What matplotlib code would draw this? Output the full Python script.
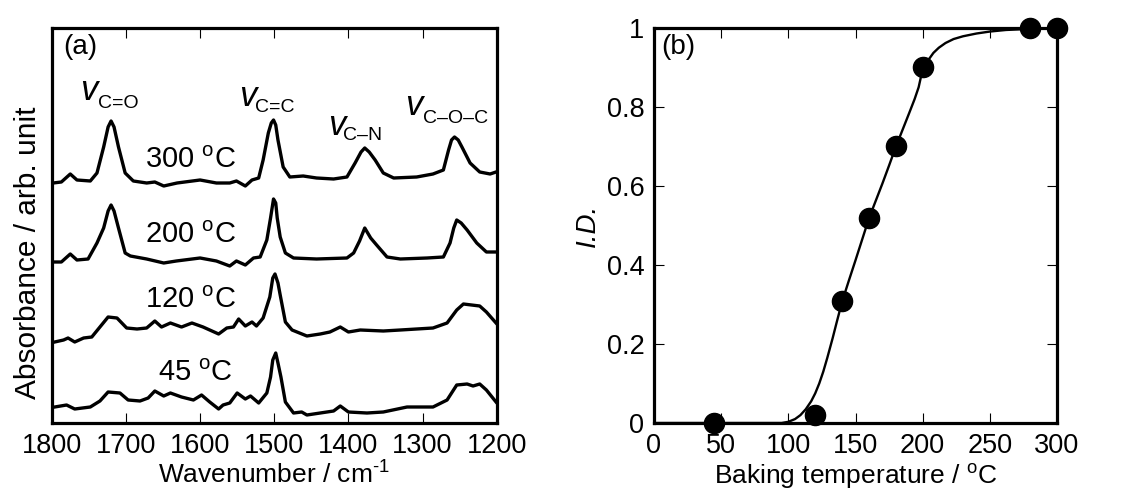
import matplotlib
matplotlib.use('Agg')
import matplotlib.pyplot as plt

plt.rcParams['font.family'] = ['Liberation Sans', 'DejaVu Sans']
plt.rcParams['mathtext.fontset'] = 'custom'
plt.rcParams['mathtext.rm'] = 'Liberation Sans'
plt.rcParams['mathtext.it'] = 'Liberation Sans:italic'

# ---- (a) IR spectra (absorbance in arb. unit, already stacked)
wn_300 = [1798, 1787, 1775, 1766, 1748, 1739, 1730, 1724, 1720, 1716, 1710, 1701, 1690, 1672,
          1661, 1649, 1631, 1600, 1578, 1560, 1551, 1539, 1530, 1521, 1515, 1508, 1504, 1501,
          1498, 1495, 1488, 1479, 1461, 1443, 1420, 1402, 1391, 1383, 1378, 1372, 1364, 1353,
          1339, 1308, 1286, 1272, 1265, 1261, 1257, 1252, 1247, 1236, 1223, 1209, 1201]
ab_300 = [2.40, 2.41, 2.49, 2.43, 2.42, 2.50, 2.76, 2.96, 3.02, 2.96, 2.76, 2.50, 2.42, 2.40,
          2.41, 2.37, 2.40, 2.43, 2.40, 2.40, 2.42, 2.37, 2.43, 2.45, 2.63, 2.90, 3.00, 3.03,
          2.98, 2.83, 2.56, 2.46, 2.47, 2.45, 2.44, 2.46, 2.60, 2.71, 2.75, 2.71, 2.63, 2.50,
          2.45, 2.46, 2.49, 2.53, 2.73, 2.83, 2.86, 2.83, 2.76, 2.60, 2.51, 2.49, 2.51]

wn_200 = [1796, 1787, 1775, 1766, 1751, 1739, 1730, 1724, 1720, 1716, 1710, 1701, 1694, 1672,
          1649, 1632, 1600, 1578, 1560, 1551, 1539, 1528, 1519, 1510, 1505, 1501, 1498, 1496,
          1492, 1485, 1474, 1443, 1402, 1393, 1385, 1378, 1370, 1362, 1348, 1330, 1294, 1272,
          1263, 1258, 1254, 1248, 1240, 1227, 1214, 1201]
ab_200 = [1.61, 1.61, 1.69, 1.63, 1.64, 1.80, 1.95, 2.12, 2.18, 2.12, 1.95, 1.70, 1.67, 1.64,
          1.60, 1.62, 1.65, 1.62, 1.57, 1.62, 1.58, 1.65, 1.66, 1.83, 2.05, 2.24, 2.20, 2.05,
          1.86, 1.70, 1.65, 1.64, 1.65, 1.70, 1.82, 1.95, 1.85, 1.78, 1.66, 1.64, 1.65, 1.66,
          1.80, 1.95, 2.03, 2.00, 1.93, 1.80, 1.71, 1.71]

wn_120 = [1796, 1784, 1778, 1769, 1757, 1746, 1735, 1724, 1712, 1699, 1685, 1672, 1661, 1652,
          1640, 1625, 1611, 1596, 1575, 1564, 1555, 1548, 1539, 1530, 1524, 1515, 1506, 1502,
          1499, 1495, 1492, 1485, 1476, 1456, 1438, 1425, 1411, 1400, 1384, 1353, 1330, 1286,
          1267, 1254, 1245, 1223, 1214, 1201]
ab_120 = [0.81, 0.83, 0.85, 0.81, 0.85, 0.86, 0.96, 1.06, 1.05, 0.95, 0.94, 0.95, 1.02, 0.96,
          1.00, 0.96, 1.00, 0.96, 0.89, 0.95, 0.96, 1.04, 0.97, 1.01, 0.97, 1.05, 1.26, 1.45,
          1.49, 1.40, 1.28, 1.01, 0.93, 0.87, 0.89, 0.91, 0.96, 0.91, 0.93, 0.92, 0.93, 0.95,
          1.00, 1.13, 1.19, 1.17, 1.11, 1.00]

wn_45 = [1796, 1780, 1769, 1748, 1735, 1724, 1708, 1697, 1681, 1670, 1661, 1649, 1640, 1625,
         1609, 1598, 1587, 1575, 1569, 1560, 1550, 1539, 1532, 1521, 1510, 1505, 1502, 1498,
         1495, 1491, 1485, 1474, 1463, 1456, 1438, 1420, 1411, 1400, 1375, 1353, 1321, 1286,
         1267, 1254, 1240, 1232, 1223, 1214, 1201]
ab_45 = [0.16, 0.18, 0.14, 0.16, 0.22, 0.31, 0.30, 0.23, 0.22, 0.25, 0.32, 0.27, 0.30, 0.26,
         0.23, 0.28, 0.21, 0.14, 0.18, 0.20, 0.30, 0.24, 0.27, 0.20, 0.30, 0.46, 0.63, 0.70,
         0.60, 0.46, 0.21, 0.10, 0.11, 0.08, 0.10, 0.12, 0.17, 0.11, 0.10, 0.11, 0.16, 0.16,
         0.23, 0.38, 0.39, 0.37, 0.39, 0.33, 0.21]

spectra = [(wn_300, ab_300), (wn_200, ab_200), (wn_120, ab_120), (wn_45, ab_45)]
temp_labels = ['300 $^{\\rm o}$C', '200 $^{\\rm o}$C', '120 $^{\\rm o}$C', '45 $^{\\rm o}$C']

# ---- (b) imidization degree vs baking temperature
bake_T = [45, 120, 140, 160, 180, 200, 280, 300]
imid_deg = [0.0, 0.02, 0.31, 0.52, 0.70, 0.90, 1.0, 1.0]
# fitted curve
fit_T = [0, 95, 100, 105, 109, 113, 117, 120, 123, 126, 129, 133, 136, 140, 145, 150, 155,
         160, 165, 170, 175, 180, 185, 190, 194, 197, 200, 204, 208, 212, 217, 223, 230,
         240, 250, 262, 275, 290, 300]
fit_ID = [0.0, 0.0, 0.003, 0.01, 0.02, 0.035, 0.055, 0.075, 0.10, 0.13, 0.165, 0.215, 0.255,
          0.307, 0.36, 0.412, 0.465, 0.518, 0.562, 0.606, 0.652, 0.699, 0.742, 0.785, 0.82,
          0.85, 0.896, 0.918, 0.937, 0.95, 0.962, 0.972, 0.979, 0.986, 0.991, 0.995, 0.997,
          0.999, 1.0]

fig = plt.figure(figsize=(11.27, 4.99), dpi=100)
ax1 = fig.add_axes([0.0459, 0.1523, 0.3949, 0.7916])
ax2 = fig.add_axes([0.5803, 0.1523, 0.3576, 0.7916])

lab_fs = 19
tick_kw = dict(direction='in', length=7, width=0.8, labelsize=19.5, pad=7)

# panel (a)
for (wn, ab) in spectra:
    ax1.plot(wn, ab, color='black', lw=2.4, solid_joinstyle='round')

ax1.set_xlim(1800, 1200)
ax1.set_ylim(0, 3.95)
ax1.set_xticks([1800, 1700, 1600, 1500, 1400, 1300, 1200])
ax1.set_yticks([])
ax1.tick_params(axis='x', top=True, bottom=True, **tick_kw)
ax1.set_xlabel('Wavenumber / cm$^{\\rm \u2010 1}$', fontsize=lab_fs, labelpad=2)
ax1.set_ylabel('Absorbance / arb. unit', fontsize=21.5)
ax1.yaxis.set_label_coords(-0.022, 0.43)

label_pos = [(1613, 2.55), (1613, 1.80), (1613, 1.15), (1606, 0.42)]
for (x, y), t in zip(label_pos, temp_labels):
    ax1.text(x, y, t, fontsize=21, ha='center', va='baseline')

peak_labels = [
    ((1762, 3.23), (1737, 3.15), 'C=O'),
    ((1548, 3.17), (1526, 3.11), 'C=C'),
    ((1428, 2.88), (1407, 2.83), 'C\u2013N'),
    ((1324, 3.08), (1300, 3.00), 'C\u2013O\u2013C'),
]
for (vx, vy), (sx, sy), sub in peak_labels:
    ax1.text(vx, vy, 'v', fontsize=25, fontstyle='italic', ha='left', va='baseline')
    ax1.text(sx, sy, sub, fontsize=14, ha='left', va='baseline')

ax1.text(0.025, 0.985, '(a)', transform=ax1.transAxes, fontsize=20, ha='left', va='top')

# panel (b)
ax2.plot(fit_T, fit_ID, color='black', lw=1.7)
ax2.plot(bake_T, imid_deg, 'o', color='black', markersize=14.5, clip_on=False, zorder=5)

ax2.set_xlim(0, 300)
ax2.set_ylim(0, 1)
ax2.set_xticks([0, 50, 100, 150, 200, 250, 300])
ax2.set_yticks([0, 0.2, 0.4, 0.6, 0.8, 1.0])
ax2.set_yticklabels(['0', '0.2', '0.4', '0.6', '0.8', '1'])
ax2.tick_params(axis='both', top=True, bottom=True, left=True, right=True, **tick_kw)
ax2.set_xlabel('Baking temperature / $^{\\rm o}$C', fontsize=lab_fs, labelpad=2)
ax2.set_ylabel('I.D.', fontsize=20, fontstyle='italic', labelpad=4)
ax2.text(0.019, 0.985, '(b)', transform=ax2.transAxes, fontsize=20, ha='left', va='top')

for ax in (ax1, ax2):
    for sp in ax.spines.values():
        sp.set_linewidth(2.3)

fig.savefig('out.png', dpi=100)
